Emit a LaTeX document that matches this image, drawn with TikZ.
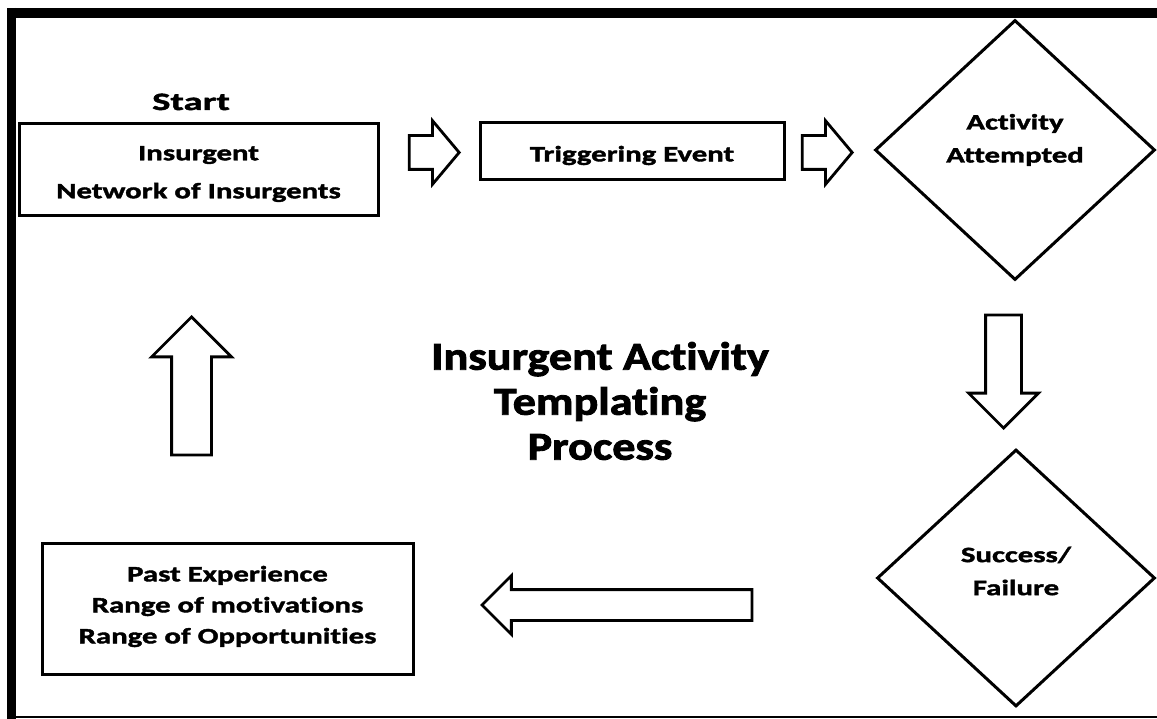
\documentclass[tikz,border=0pt]{standalone}
\usepackage{fontspec}
\setmainfont{Carlito}[FakeStretch=1.4,Ligatures=NoCommon,BoldFeatures={FakeBold=1.8}]
\newfontfamily\titlefont{Carlito}[FakeStretch=1.17,Ligatures=NoCommon,BoldFeatures={FakeBold=2.2}]
\newfontfamily\startfont{Carlito}[FakeStretch=1.55,Ligatures=NoCommon,BoldFeatures={FakeBold=1.8}]
\usetikzlibrary{shapes.geometric,shapes.arrows}

\begin{document}
\begin{tikzpicture}[x=1pt,y=-1pt,
		every node/.style={align=center},
		box/.style={draw,line width=3pt,inner sep=0pt},
		boxtext/.style={font=\fontsize{22}{38}\selectfont\bfseries},
		decision/.style={draw,diamond,line width=3pt,inner sep=0pt},
		decisiontext/.style={font=\fontsize{22}{33}\selectfont\bfseries},
		blockarrow/.style={draw,single arrow,line width=2.8pt,inner xsep=0pt,single arrow head indent=0pt,anchor=tip}]
		
		\useasboundingbox (0,0) rectangle (1157,719);
		
		% frame
		\draw[line width=10pt] (7,13) -- (1157,13);
		\draw[line width=9pt] (11.5,8) -- (11.5,719);
		\draw[line width=1.5pt] (7,717) -- (1157,717);
		
		\node[anchor=base,font=\startfont\fontsize{25}{30}\selectfont\bfseries] (start) at (191,110) {Start};
		\node[box,minimum width=359pt,minimum height=92pt] (insurgent) at (198.5,170) {};
		\node[boxtext] (insurgenttext) at ([yshift=-4pt]insurgent.center) {Insurgent\\Network of Insurgents};
		\node[box,minimum width=304pt,minimum height=57pt] (trigger) at (632,151.5) {};
		\node[boxtext] (triggertext) at ([yshift=-4pt]trigger.center) {Triggering Event};
		\node[decision,minimum width=280pt,minimum height=260pt] (attempt) at (1015,150) {};
		\node[decisiontext] (attempttext) at ([yshift=10pt]attempt.center) {Activity\\Attempted};
		\node[decision,minimum width=278pt,minimum height=257pt] (outcome) at (1016,578) {};
		\node[decisiontext] (outcometext) at ([yshift=7pt]outcome.center) {Success/\\Failure};
		\node[box,minimum width=371pt,minimum height=131pt] (past) at (227.5,608.5) {};
		\node[boxtext,font=\fontsize{22}{31}\selectfont\bfseries] (pasttext) at ([yshift=2pt]past.center) {Past Experience\\Range of motivations\\Range of Opportunities};
		
		\node[font=\titlefont\fontsize{39.5}{45}\selectfont\bfseries] (title) at (600,401) {Insurgent Activity\\Templating\\Process};
		
		% block arrows, placed by their tips
		\node[blockarrow,minimum height=50pt,minimum width=61pt,inner ysep=15.5pt,single arrow head extend=15pt,single arrow tip angle=100] (toTrigger) at (461,152.5) {};
		\node[blockarrow,minimum height=50pt,minimum width=61pt,inner ysep=15.5pt,single arrow head extend=15pt,single arrow tip angle=100] (toAttempt) at (854,152.5) {};
		\node[blockarrow,rotate=-90,minimum height=113pt,minimum width=67pt,inner ysep=16.5pt,single arrow head extend=17pt] (toOutcome) at (1003.5,430) {};
		\node[blockarrow,rotate=180,minimum height=270pt,minimum width=56pt,inner ysep=14pt,single arrow head extend=14pt] (toPast) at (480,605) {};
		\node[blockarrow,rotate=90,minimum height=138pt,minimum width=77pt,inner ysep=18.5pt,single arrow head extend=20pt] (toStart) at (191.5,315) {};
		\end{tikzpicture}
\end{document}
